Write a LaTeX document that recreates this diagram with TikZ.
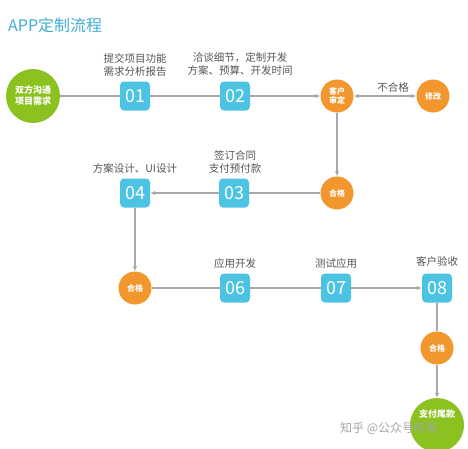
\documentclass[tikz,border=0pt]{standalone}
\usepackage{fontspec}
\setmainfont{Noto Sans CJK SC}
\usetikzlibrary{arrows.meta}
\definecolor{boxblue}{HTML}{4DC3E3}
\definecolor{orng}{HTML}{F2962E}
\definecolor{grn}{HTML}{8CC21F}
\definecolor{ttl}{HTML}{3FAFD3}
\definecolor{lgray}{HTML}{A8A8A8}
\definecolor{txtgray}{HTML}{555555}
\tikzset{
  numbox/.style={fill=boxblue, rounded corners=4pt, minimum width=30pt, minimum height=29pt, inner sep=0pt, text=white, font=\fontsize{18}{18}\selectfont},
  ocirc/.style={circle, fill=orng, minimum size=33pt, inner sep=0pt, text=white, font=\fontsize{8}{9}\selectfont\bfseries, align=center},
  gcirc/.style={circle, fill=grn, minimum size=54pt, inner sep=0pt, text=white, font=\fontsize{9}{11}\selectfont\bfseries, align=center},
  lbl/.style={text=txtgray, font=\fontsize{10.5}{13.5}\selectfont, align=center, inner sep=0pt},
  conn/.style={draw=lgray, line width=1.1pt},
  arr/.style={conn, -{Latex[length=5pt,width=4.5pt]}},
}
\begin{document}
\begin{tikzpicture}[x=1pt,y=-1pt]
\useasboundingbox[fill=white] (0,0) rectangle (468,448);
\node[anchor=west, text=ttl, font=\fontsize{16}{16}\selectfont, inner sep=0pt] (title) at (8,25) {APP定制流程};
% row 1
\node[gcirc] (start) at (33,96) {双方沟通\\项目需求};
\node[numbox] (n1) at (135,96) {01};
\node[numbox] (n2) at (235,96) {02};
\node[ocirc] (sd) at (337,96) {客户\\审定};
\node[ocirc] (xg) at (433,96) {修改};
\node[lbl] (l1) at (135,65) {提交项目功能\\需求分析报告};
\node[lbl] (l2) at (240,64) {洽谈细节，定制开发\\方案、预算、开发时间};
\node[lbl] (l3) at (393,87) {不合格};
\draw[conn] (start) -- (n1);
\draw[conn] (n1) -- (n2);
\draw[arr] (n2) -- (sd);
\draw[conn, {Latex[length=5pt,width=4.5pt]}-{Latex[length=5pt,width=4.5pt]}] (sd) -- (xg);
% row 2
\node[ocirc] (hg1) at (337,193) {合格};
\node[numbox] (n3) at (234,193) {03};
\node[numbox] (n4) at (135,193) {04};
\node[lbl] (l4) at (235,162) {签订合同\\支付预付款};
\node[lbl] (l5) at (135,168) {方案设计、UI设计};
\draw[arr] (sd) -- (hg1);
\draw[conn] (hg1) -- (n3);
\draw[arr] (n3) -- (n4);
% row 3
\node[ocirc] (hg2) at (135,288) {合格};
\node[numbox] (n6) at (235,288) {06};
\node[numbox] (n7) at (336,288) {07};
\node[numbox] (n8) at (437,288) {08};
\node[lbl] (l6) at (235,263) {应用开发};
\node[lbl] (l7) at (336,263) {测试应用};
\node[lbl] (l8) at (437,261) {客户验收};
\draw[arr] (n4) -- (hg2);
\draw[conn] (hg2) -- (n6);
\draw[conn] (n6) -- (n7);
\draw[arr] (n7) -- (n8);
% row 4
\node[ocirc] (hg3) at (437,348) {合格};
\node[gcirc] (end) at (437,425) {支付尾款\\ \\ };
\draw[conn] (n8) -- (hg3);
\draw[arr] (hg3) -- (end);
\node[anchor=west, text=black!35, font=\fontsize{12}{12}\selectfont, inner sep=0pt] (wm) at (340,428) {知乎 @公众号阿发};
\end{tikzpicture}
\end{document}
